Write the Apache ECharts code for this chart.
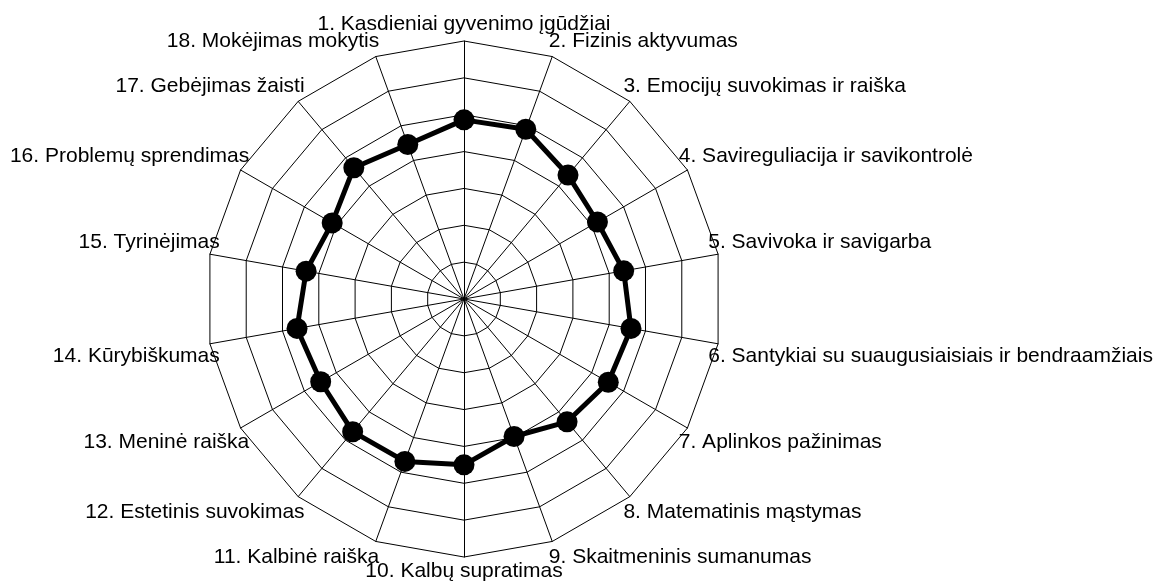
<!DOCTYPE html>
<html>
<head>
<meta charset="utf-8">
<script src="https://cdn.jsdelivr.net/npm/echarts@6/dist/echarts.min.js"></script>
<style>
html,body{margin:0;padding:0;background:#fff;}
#radarChart{width:1165px;height:583px;}
</style>
</head>
<body>
<div id="radarChart"></div>
<script>
var labels = [
	'1. Kasdieniai gyvenimo įgūdžiai',
	'2. Fizinis aktyvumas',
	'3. Emocijų suvokimas ir raiška',
	'4. Savireguliacija ir savikontrolė',
	'5. Savivoka ir savigarba',
	'6. Santykiai su suaugusiaisiais ir bendraamžiais',
	'7. Aplinkos pažinimas',
	'8. Matematinis mąstymas',
	'9. Skaitmeninis sumanumas',
	'10. Kalbų supratimas',
	'11. Kalbinė raiška',
	'12. Estetinis suvokimas',
	'13. Meninė raiška',
	'14. Kūrybiškumas',
	'15. Tyrinėjimas',
	'16. Problemų sprendimas',
	'17. Gebėjimas žaisti',
	'18. Mokėjimas mokytis'
];
var values = [4.86, 4.90, 4.39, 4.18, 4.40, 4.60, 4.52, 4.35, 3.97, 4.50, 4.69, 4.70, 4.49, 4.60, 4.35, 4.13, 4.65, 4.46];
var maxValue = 7;

var chart = {
	init : function () {
		var myChart = echarts.init(document.getElementById('radarChart'));
		var n = labels.length;
		// echarts lays indicators out counterclockwise, the picture goes clockwise
		var order = [0];
		for(var i=n-1;i>0;i--){
			order.push(i);
		}
		var indicator = [];
		var data = [];
		for(var j=0;j<order.length;j++){
			indicator.push({name : labels[order[j]], max : maxValue, min : 0});
			data.push(values[order[j]]);
		}
		// labels sit a bit away from the horizontal centre line
		var rich = {};
		for(var k=0;k<n;k++){
			var a = k*2*Math.PI/n;
			var s = Math.round(12 + 14*Math.abs(Math.cos(a)))*2;
			rich['p'+k] = {
				fontSize : 21,
				fontFamily : 'Liberation Sans',
				color : '#000',
				padding : Math.cos(a) > 0 ? [0,0,s,0] : [s,0,0,0]
			};
		}
		rich.p0.padding = [0,0,16,0];
		rich.p9.padding = [14,0,0,0];

		var option = {
			backgroundColor : '#fff',
			animation : false,
			radar : {
				center : [464, 299],
				radius : 258,
				startAngle : 90,
				shape : 'polygon',
				splitNumber : 7,
				nameGap : -10,
				axisName : {
					color : '#000',
					fontSize : 21,
					fontFamily : 'Liberation Sans',
					formatter : function (name) {
						var idx = labels.indexOf(name);
						return '{p'+idx+'|'+name+'}';
					},
					rich : rich
				},
				indicator : indicator,
				splitLine : {lineStyle : {color : '#000', width : 1}},
				splitArea : {show : false},
				axisLine : {lineStyle : {color : '#000', width : 1}}
			},
			series : [
				{
					type : 'radar',
					symbol : 'circle',
					symbolSize : 21,
					lineStyle : {color : '#000', width : 5},
					itemStyle : {color : '#000'},
					data : [{value : data}]
				}
			]
		};
		myChart.setOption(option);
	}
};
chart.init();
</script>
</body>
</html>
